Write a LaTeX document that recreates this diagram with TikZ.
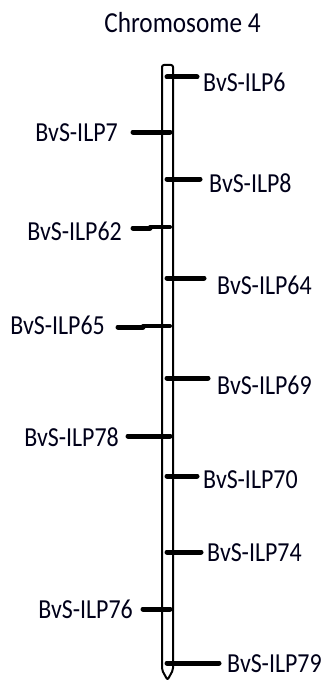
\documentclass[tikz,border=0pt]{standalone}
\usepackage{fontspec}
\setmainfont{Carlito}[FakeStretch=0.87]
\begin{document}
\begin{tikzpicture}[x=1pt,y=-1pt,
  lbl/.style={inner sep=0pt,text=black!90!blue,font=\fontsize{27.5}{32}\selectfont},
  band/.style={line width=5pt,line cap=round},
  chrom/.style={line width=2pt,line join=round}]
\useasboundingbox (0,0) rectangle (327,682);
% title
\node[lbl,font=\fontsize{29}{34}\selectfont] (title) at (182.5,23) {Chromosome 4};
% chromosome body with pointed lower end
\draw[chrom,rounded corners=2pt] (167.5,680) -- (162,670) -- (162,65) -- (173,65) -- (173,670) -- cycle;
% loci on the right: name / band y / band end / label x / label y
\foreach \n/\y/\xe/\xl/\yl in {ILP6/77/197/203/82, ILP8/179/200/209/183, ILP64/278/204/217/285,
    ILP69/378/208/217/385, ILP70/476/197/203/480, ILP74/552/201/207/553, ILP79/663/219/227/664}{
  \coordinate (\n a) at (167,\y);
  \coordinate (\n b) at (\xe,\y);
  \draw[band] (\n a) -- (\n b);
  \node[lbl,anchor=west] (\n) at (\xl,\yl) {BvS-\n};
}
% loci on the left
\foreach \n/\y/\xe/\xl/\yl in {ILP7/132/133/118/133, ILP78/436/128/119/437, ILP76/609/143/133/609}{
  \coordinate (\n a) at (170,\y);
  \coordinate (\n b) at (\xe,\y);
  \draw[band] (\n a) -- (\n b);
  \node[lbl,anchor=east] (\n) at (\xl,\yl) {BvS-\n};
}
% two loci drawn as a thick outer piece joined to a slightly offset inner piece
\foreach \n/\y/\xm/\xe/\xl/\yl in {ILP62/228/150/133/122/231, ILP65/327/143/118/105/325}{
  \coordinate (\n a) at (170,\y-1);
  \coordinate (\n m) at (\xm,\y-1);
  \coordinate (\n b) at (\xe,\y);
  \draw[band,line width=4pt] (\n a) -- (\n m);
  \draw[band] (\n m) ++(0,1) -- (\n b);
  \node[lbl,anchor=east] (\n) at (\xl,\yl) {BvS-\n};
}
\end{tikzpicture}
\end{document}
